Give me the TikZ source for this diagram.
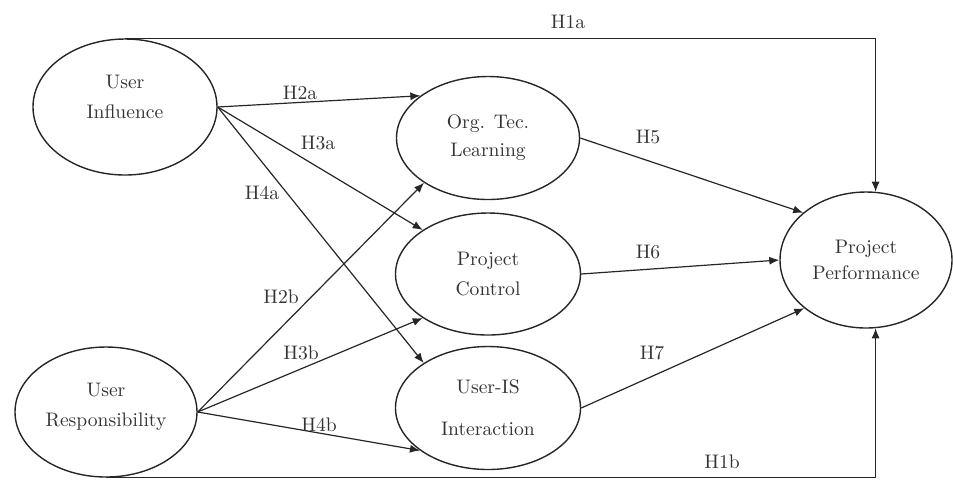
\documentclass[tikz,border=0pt]{standalone}
\usetikzlibrary{shapes.geometric,arrows.meta}

\begin{document}
\begin{tikzpicture}[x=0.5pt,y=-0.5pt,
            construct/.style={ellipse,draw=black!85,line width=0.7pt,inner sep=0pt,align=center,
              font=\fontsize{9.8}{15}\selectfont,text=black!80},
            hyp/.style={font=\fontsize{9.8}{13}\selectfont,text=black!80},
            link/.style={draw=black!85,line width=0.6pt,-{Latex[length=5pt,width=4pt]}}]
            \useasboundingbox (0,0) rectangle (953,479);
            \node[construct,minimum width=92pt,minimum height=68pt] (ui) at (125,107) {User\\Influence\\[-5pt]\mbox{}};
            \node[construct,minimum width=91pt,minimum height=65pt] (ur) at (106,412) {User\\Responsibility\\[-8pt]\mbox{}};
            \node[construct,minimum width=91.5pt,minimum height=61.5pt] (otl) at (488,138) {Org. Tec.\\[-1pt]Learning};
            \node[construct,minimum width=92.5pt,minimum height=61pt] (pc) at (488,274) {Project\\Control};
            \node[construct,minimum width=92.5pt,minimum height=61.5pt] (uis) at (488,408) {User-IS\\[6pt]Interaction};
            \node[construct,minimum width=86pt,minimum height=68pt] (pp) at (866,260) {Project\\[-2pt]Performance};
            \draw[link] (ui.east) -- (otl.148);
            \draw[link] (ui.east) -- (pc.146);
            \draw[link] (ui.east) -- (uis.145);
            \draw[link] (ur.east) -- (otl.215);
            \draw[link] (ur.east) -- (pc.214);
            \draw[link] (ur.east) -- (uis.212);
            \draw[link] (otl.east) -- (pp.143);
            \draw[link] (pc.east) -- (pp.west);
            \draw[link] (uis.east) -- (pp.218);
            \draw[link] (ui.north) -| (pp.82);
            \draw[link] (ur.south) -| (pp.278);
            \node[hyp] (h1a) at (568,22) {H1a};
            \node[hyp] (h2a) at (300,93) {H2a};
            \node[hyp] (h3a) at (318,143) {H3a};
            \node[hyp] (h4a) at (262,193) {H4a};
            \node[hyp] (h2b) at (281,297) {H2b};
            \node[hyp] (h3b) at (301,353) {H3b};
            \node[hyp] (h4b) at (319,425) {H4b};
            \node[hyp] (h5) at (648,137) {H5};
            \node[hyp] (h6) at (648,252) {H6};
            \node[hyp] (h7) at (652,353) {H7};
            \node[hyp] (h1b) at (722,462) {H1b};
        \end{tikzpicture}
\end{document}
